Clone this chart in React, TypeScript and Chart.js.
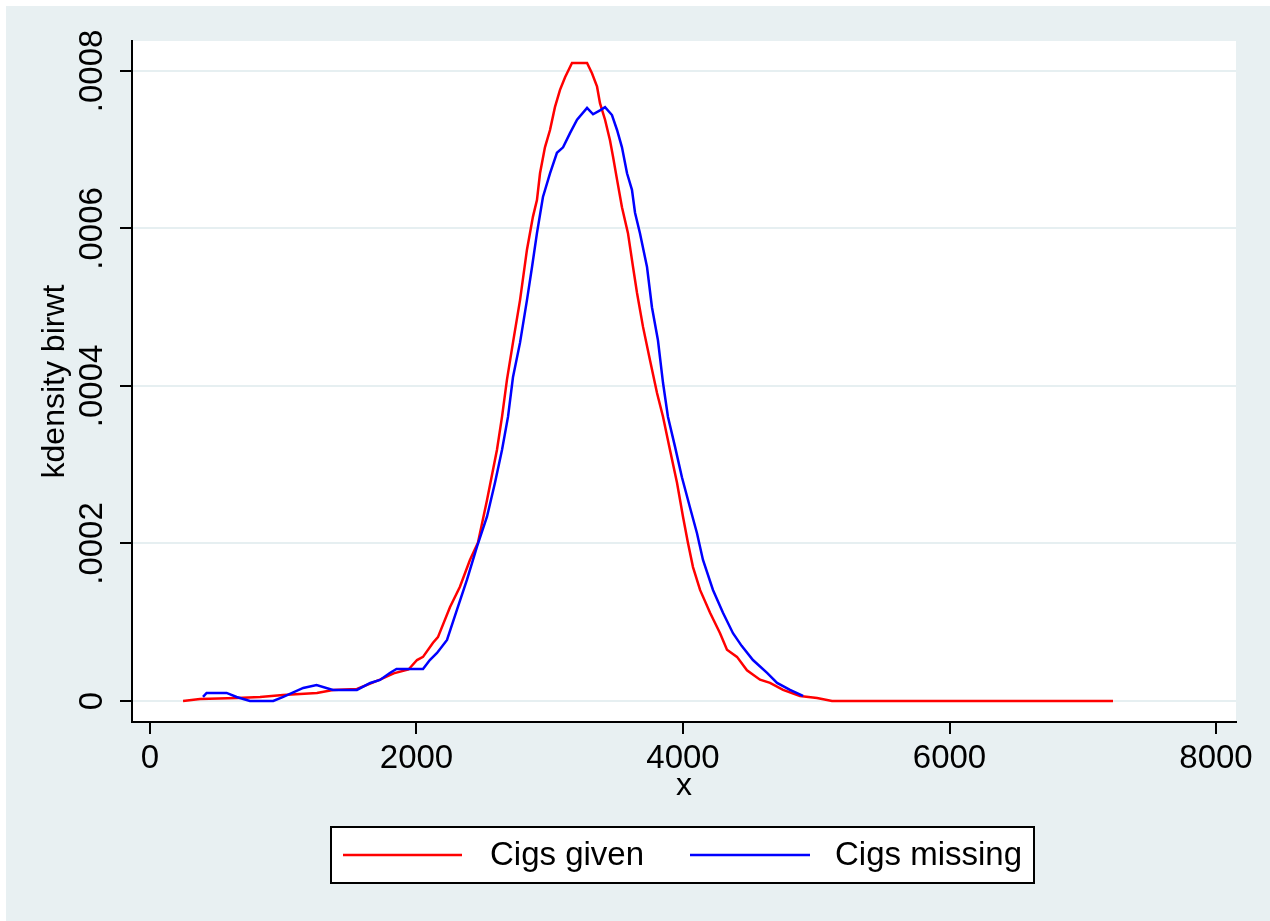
import React, { useEffect, useRef } from "react";
import { Chart, registerables } from "chart.js";

Chart.register(...registerables);

// ---- data ----
const givenX = [248, 375, 653, 826, 998, 1253, 1373, 1553, 1726, 1829, 1940, 2004, 2049, 2124, 2161, 2251, 2326, 2401, 2461, 2529, 2604, 2642, 2679, 2724, 2777, 2829, 2874, 2904, 2927, 2964, 3002, 3039, 3077, 3115, 3167, 3280, 3317, 3355, 3377, 3415, 3452, 3475, 3505, 3542, 3587, 3625, 3655, 3700, 3752, 3805, 3850, 3902, 3955, 4000, 4037, 4075, 4128, 4203, 4278, 4330, 4405, 4480, 4578, 4653, 4751, 4878, 5006, 5118, 7227];
const givenY = [0, 2.5e-6, 3.8e-6, 5.1e-6, 7.6e-6, 1.02e-5, 1.4e-5, 1.52e-5, 2.7e-5, 3.5e-5, 4e-5, 5.2e-5, 5.6e-5, 7.4e-5, 8.1e-5, 1.19e-4, 1.45e-4, 1.79e-4, 2.01e-4, 2.55e-4, 3.19e-4, 3.61e-4, 4.08e-4, 4.55e-4, 5.09e-4, 5.73e-4, 6.15e-4, 6.36e-4, 6.7e-4, 7.03e-4, 7.25e-4, 7.54e-4, 7.76e-4, 7.92e-4, 8.1e-4, 8.1e-4, 7.97e-4, 7.8e-4, 7.59e-4, 7.38e-4, 7.12e-4, 6.91e-4, 6.62e-4, 6.27e-4, 5.94e-4, 5.51e-4, 5.18e-4, 4.75e-4, 4.33e-4, 3.91e-4, 3.61e-4, 3.19e-4, 2.77e-4, 2.34e-4, 2.01e-4, 1.7e-4, 1.41e-4, 1.12e-4, 8.6e-5, 6.5e-5, 5.6e-5, 3.9e-5, 2.7e-5, 2.3e-5, 1.4e-5, 6.4e-6, 3.8e-6, 0, 0];

const missingX = [398, 425, 575, 650, 750, 925, 1000, 1150, 1250, 1373, 1553, 1653, 1726, 1800, 1850, 2049, 2100, 2154, 2229, 2304, 2379, 2454, 2529, 2589, 2642, 2687, 2724, 2777, 2829, 2867, 2904, 2949, 3002, 3054, 3100, 3152, 3205, 3280, 3325, 3377, 3415, 3467, 3505, 3542, 3580, 3617, 3640, 3677, 3730, 3767, 3812, 3850, 3887, 3940, 3992, 4052, 4105, 4150, 4225, 4300, 4375, 4440, 4525, 4631, 4706, 4803, 4901];
const missingY = [5.1e-6, 1.02e-5, 1.02e-5, 5.1e-6, 0, 0, 5.1e-6, 1.65e-5, 2.03e-5, 1.4e-5, 1.4e-5, 2.29e-5, 2.67e-5, 3.56e-5, 4.06e-5, 4.06e-5, 5.2e-5, 6.1e-5, 7.75e-5, 1.16e-4, 1.54e-4, 1.96e-4, 2.34e-4, 2.77e-4, 3.19e-4, 3.61e-4, 4.11e-4, 4.55e-4, 5.09e-4, 5.51e-4, 5.94e-4, 6.4e-4, 6.7e-4, 6.96e-4, 7.03e-4, 7.21e-4, 7.38e-4, 7.53e-4, 7.45e-4, 7.5e-4, 7.54e-4, 7.44e-4, 7.25e-4, 7.03e-4, 6.7e-4, 6.49e-4, 6.2e-4, 5.94e-4, 5.51e-4, 5.0e-4, 4.58e-4, 4.04e-4, 3.61e-4, 3.23e-4, 2.84e-4, 2.46e-4, 2.13e-4, 1.79e-4, 1.41e-4, 1.12e-4, 8.6e-5, 7.0e-5, 5.2e-5, 3.56e-5, 2.29e-5, 1.4e-5, 6.4e-6];

const xTicks = [0, 2000, 4000, 6000, 8000];
const xTickLabels = ["0", "2000", "4000", "6000", "8000"];
const yTicks = [0, 0.0002, 0.0004, 0.0006, 0.0008];
const yTickLabels = ["0", ".0002", ".0004", ".0006", ".0008"];
const seriesNames = ["Cigs given", "Cigs missing"];
const seriesColors = ["#ff0000", "#0000ff"];
const xTitle = "x";
const yTitle = "kdensity birwt";

const FONT = "'Liberation Sans', Arial, 'DejaVu Sans', sans-serif";
const BG = "#e8f0f2";
const GRID = "#e6eff1";

const backgroundPlugin = {
  id: "stataBackground",
  beforeDraw(chart: any) {
    const { ctx, width, height, chartArea } = chart;
    ctx.save();
    ctx.fillStyle = "#ffffff";
    ctx.fillRect(0, 0, width, height);
    ctx.fillStyle = BG;
    ctx.fillRect(6, 6, width - 6, height - 6);
    ctx.fillStyle = "#ffffff";
    ctx.fillRect(chartArea.left, chartArea.top, chartArea.right - chartArea.left, chartArea.bottom - chartArea.top);
    ctx.restore();
  },
};

const legendPlugin = {
  id: "stataLegend",
  afterDraw(chart: any) {
    const { ctx } = chart;
    ctx.save();
    const bx = 331, by = 827, bw = 703, bh = 56;
    ctx.fillStyle = "#ffffff";
    ctx.fillRect(bx, by, bw, bh);
    ctx.strokeStyle = "#000000";
    ctx.lineWidth = 2;
    ctx.strokeRect(bx, by, bw, bh);
    const cy = 855;
    const lineStarts = [343, 690];
    const lineEnds = [462, 810];
    const textStarts = [490, 835];
    ctx.font = `33px ${FONT}`;
    ctx.textBaseline = "middle";
    ctx.textAlign = "left";
    seriesNames.forEach((name, i) => {
      ctx.strokeStyle = seriesColors[i];
      ctx.lineWidth = 2.5;
      ctx.beginPath();
      ctx.moveTo(lineStarts[i], cy);
      ctx.lineTo(lineEnds[i], cy);
      ctx.stroke();
      ctx.fillStyle = "#000000";
      ctx.fillText(name, textStarts[i], cy + 1);
    });
    ctx.restore();
  },
};

export default function App() {
  const ref = useRef<HTMLCanvasElement>(null);
  useEffect(() => {
    document.body.style.margin = "0";
    const canvas = ref.current!;
    const chart = new Chart(canvas, {
      type: "line",
      data: {
        datasets: [
          {
            label: seriesNames[0],
            data: givenX.map((x, i) => ({ x, y: givenY[i] })),
            borderColor: seriesColors[0],
            backgroundColor: seriesColors[0],
            borderWidth: 2.5,
            pointRadius: 0,
            tension: 0,
            fill: false,
            order: 1,
          },
          {
            label: seriesNames[1],
            data: missingX.map((x, i) => ({ x, y: missingY[i] })),
            borderColor: seriesColors[1],
            backgroundColor: seriesColors[1],
            borderWidth: 2.5,
            pointRadius: 0,
            tension: 0,
            fill: false,
            order: 0,
          },
        ],
      },
      options: {
        animation: false,
        responsive: false,
        devicePixelRatio: 1,
        events: [],
        layout: { padding: { left: 0, top: 41, right: 34, bottom: 116 } },
        plugins: {
          legend: { display: false },
          tooltip: { enabled: false },
        },
        scales: {
          x: {
            type: "linear",
            min: -135,
            max: 8150,
            afterBuildTicks: (s: any) => {
              s.ticks = xTicks.map((v) => ({ value: v }));
            },
            afterFit: (s: any) => {
              s.height = 83;
            },
            ticks: {
              autoSkip: false,
              maxRotation: 0,
              minRotation: 0,
              padding: 5,
              color: "#000000",
              font: { family: FONT, size: 33 },
              callback: (_v: any, i: number) => xTickLabels[i],
            },
            grid: {
              drawOnChartArea: false,
              drawTicks: true,
              tickLength: 12,
              tickColor: "#000000",
              color: "#000000",
              lineWidth: 2,
            },
            border: { display: true, color: "#000000", width: 2 },
            title: {
              display: true,
              text: xTitle,
              color: "#000000",
              font: { family: FONT, size: 32, lineHeight: 1 },
              padding: { top: 0, bottom: 3 },
            },
          },
          y: {
            type: "linear",
            min: -0.0000267,
            max: 0.000838,
            afterBuildTicks: (s: any) => {
              s.ticks = yTicks.map((v) => ({ value: v }));
            },
            afterFit: (s: any) => {
              s.width = 132;
            },
            ticks: {
              autoSkip: false,
              minRotation: 90,
              maxRotation: 90,
              crossAlign: "center",
              padding: -14,
              color: "#000000",
              font: { family: FONT, size: 33 },
              callback: (_v: any, i: number) => yTickLabels[i],
            },
            grid: {
              drawOnChartArea: true,
              drawTicks: true,
              tickLength: 12,
              tickColor: "#000000",
              color: GRID,
              lineWidth: 2,
            },
            border: { display: true, color: "#000000", width: 2 },
            title: {
              display: true,
              text: yTitle,
              color: "#000000",
              font: { family: FONT, size: 32, lineHeight: 1 },
              padding: { top: 39, bottom: 0 },
            },
          },
        },
      } as any,
      plugins: [backgroundPlugin, legendPlugin],
    });
    return () => chart.destroy();
  }, []);
  return (
    <div style={{ width: 1270, height: 921 }}>
      <canvas ref={ref} width={1270} height={921} style={{ display: "block" }} />
    </div>
  );
}
